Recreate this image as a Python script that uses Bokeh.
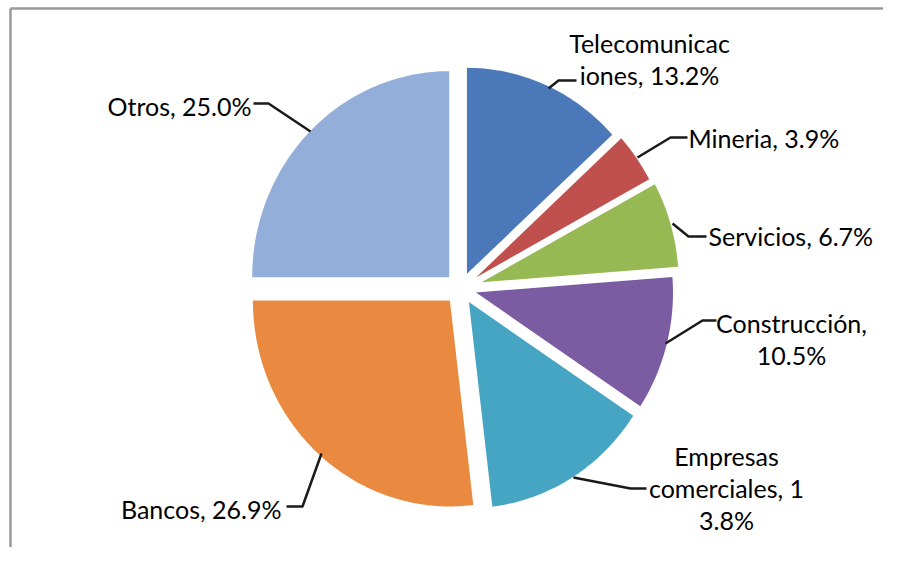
import math
from bokeh.plotting import figure
from bokeh.models import Range1d, ColumnDataSource
from bokeh.core.properties import value
from bokeh.embed import file_html
from bokeh.resources import INLINE

# ---- data ----
categories = ["Telecomunicaciones", "Mineria", "Servicios", "Construcción",
              "Empresas comerciales", "Bancos", "Otros"]
shares = [13.2, 3.9, 6.7, 10.5, 13.8, 26.9, 25.0]
colors = ["#4A78B8", "#C0504D", "#97B954", "#7B5BA1", "#46A5C2", "#E98A40", "#94AEDA"]

# label line-break positions (character indices in "Name, xx.x%")
breaks = [[13], [], [], [13], [8, 23], [], []]

W, H = 883, 547
p = figure(width=W, height=H, output_backend="svg", toolbar_location=None,
           x_range=Range1d(0, W), y_range=Range1d(H, 0),
           min_border=0, outline_line_color=None)
p.axis.visible = False
p.grid.visible = False
p.background_fill_color = "white"
p.border_fill_color = "white"

# frame of the original chart area (only top & left visible)
p.line(x=[10, 10], y=[8, 600], line_color="#9a9a9a", line_width=2.5)
p.line(x=[10, 950], y=[8, 8], line_color="#9a9a9a", line_width=2.5)

# ---- pie (slightly elliptical, exploded) ----
cx, cy, rx, ry = 460, 288, 197, 206
explode = [16, 19, 22, 16, 16, 16, 16]
total = sum(shares)
xs, ys = [], []
start = 0.0
for i, v in enumerate(shares):
    a0 = start / total * 2 * math.pi
    a1 = (start + v) / total * 2 * math.pi
    mid = (a0 + a1) / 2
    ox = explode[i] * math.sin(mid)
    oy = -explode[i] * math.cos(mid)
    n = max(8, int(v * 3))
    px = [cx + ox]
    py = [cy + oy]
    for k in range(n + 1):
        t = a0 + (a1 - a0) * k / n
        px.append(cx + ox + rx * math.sin(t))
        py.append(cy + oy - ry * math.cos(t))
    xs.append(px)
    ys.append(py)
    start += v

p.patches(xs=xs, ys=ys, fill_color=colors, line_color=None)

# ---- leader lines ----
leaders_x = [[548, 558, 576], [637, 670, 687], [672, 688, 706], [665, 702, 716],
             [573, 630, 646], [321, 302, 286], [310, 268, 253]]
leaders_y = [[88, 80, 80], [157, 137, 137], [223, 236, 236], [343, 320, 320],
             [477, 488, 488], [453, 506, 506], [131, 103, 103]]
p.multi_line(xs=leaders_x, ys=leaders_y, line_color="#1a1a1a", line_width=2.5)

# ---- labels ----
anchors = [(649, 42, "center"), (688, 137, "left"), (708, 235, "left"),
           (791, 322, "center"), (726, 455, "center"), (281, 508, "right"),
           (251, 105, "right")]
line_gap = 32
tx, ty, tt, ta = [], [], [], []
for i, (c, v) in enumerate(zip(categories, shares)):
    s = f"{c}, {v:.1f}%"
    parts = []
    prev = 0
    for b in breaks[i]:
        parts.append(s[prev:b].strip())
        prev = b
    parts.append(s[prev:].strip())
    x, y, al = anchors[i]
    for j, line in enumerate(parts):
        tx.append(x)
        ty.append(y + j * line_gap)
        tt.append(line)
        ta.append(al)

src = ColumnDataSource(dict(x=tx, y=ty, text=tt, align=ta))
p.text(x="x", y="y", text="text", source=src, text_align="align",
       text_baseline="alphabetic", text_font=value("Lato"),
       text_font_size="25px", text_color="#000000")

open("out.html", "w").write(file_html(p, INLINE))
